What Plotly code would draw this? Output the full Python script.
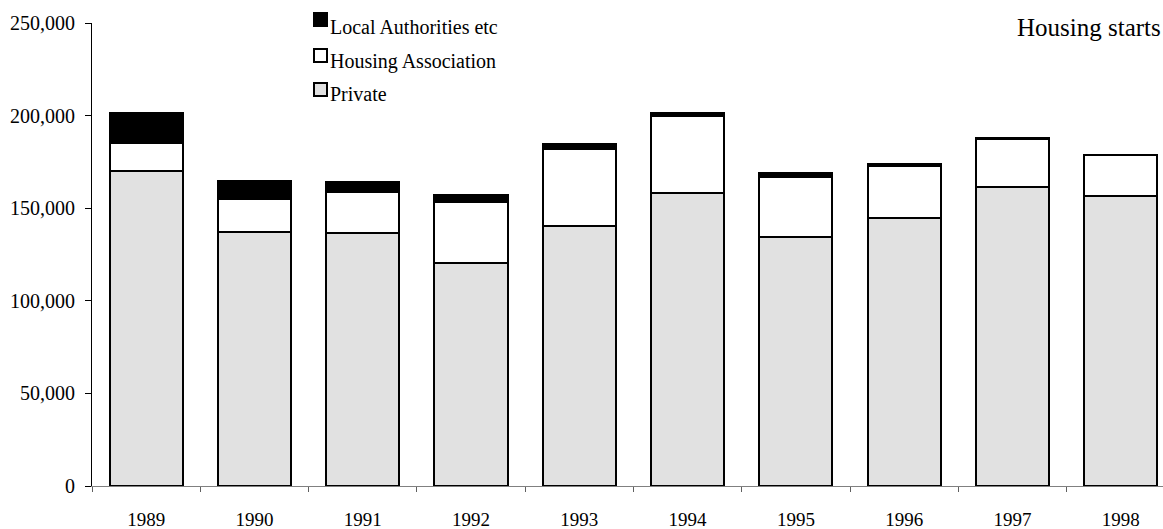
import plotly.graph_objects as go

# Housing starts by sector, 1989-1998
years = ["1989", "1990", "1991", "1992", "1993", "1994", "1995", "1996", "1997", "1998"]
private = [170000, 137000, 136800, 120400, 140600, 158400, 134400, 144700, 161600, 156600]
housing_association = [15400, 18000, 21900, 33100, 41500, 41200, 32600, 28100, 25900, 21900]
local_authorities = [16000, 9800, 5300, 3600, 2700, 1800, 1800, 1100, 300, 300]

series_names = ["Private", "Housing Association", "Local Authorities etc"]
series_values = [private, housing_association, local_authorities]
series_colors = ["#e1e1e1", "#ffffff", "#000000"]

y_ticks = [0, 50000, 100000, 150000, 200000, 250000]

W, H = 1163, 529
ML, MR, MT, MB = 92, 0, 23, 43
PW, PH = W - ML - MR, H - MT - MB
FONT = "Liberation Serif"


def px_x(p):
    return (p - ML) / PW


def px_y(p):
    return (H - MB - p) / PH


fig = go.Figure()
for name, vals, col in zip(series_names, series_values, series_colors):
    fig.add_trace(go.Bar(
        x=years, y=vals, name=name,
        marker=dict(color=col, line=dict(color="#000000", width=2)),
        showlegend=False,
    ))

# Legend drawn as boxes with labels, top entry = top of stack
legend_rows = [(13, 27), (49, 61), (83, 94)]
for (sq_top, txt_y), name, col in zip(legend_rows, series_names[::-1], series_colors[::-1]):
    fig.add_shape(type="rect", xref="paper", yref="paper",
                  x0=px_x(314), x1=px_x(327), y0=px_y(sq_top + 13), y1=px_y(sq_top),
                  fillcolor=col, line=dict(color="#000000", width=2))
    fig.add_annotation(xref="paper", yref="paper", x=px_x(328), y=px_y(txt_y),
                       xanchor="left", yanchor="middle", showarrow=False,
                       text=name, font=dict(family=FONT, size=20, color="#000000"))

fig.add_annotation(xref="paper", yref="paper", x=1, y=px_y(27),
                   xanchor="right", yanchor="middle", showarrow=False,
                   text="Housing starts", font=dict(family=FONT, size=25, color="#000000"))

fig.update_layout(
    width=W, height=H, autosize=False,
    margin=dict(l=ML, r=MR, t=MT, b=MB, pad=0),
    barmode="stack", bargap=0.325,
    paper_bgcolor="#ffffff", plot_bgcolor="#ffffff",
    font=dict(family=FONT, size=20, color="#000000"),
    xaxis=dict(type="category", range=[-0.5, 9.39], tickson="boundaries",
               ticks="outside", ticklen=5, tickcolor="#606060", tickwidth=1,
               showline=True, linecolor="#808080", linewidth=1,
               showgrid=False, zeroline=False, ticklabelstandoff=16,
               tickfont=dict(family=FONT, size=19, color="#000000")),
    yaxis=dict(range=[0, 250000], tickvals=y_ticks, tickformat=",",
               ticks="outside", ticklen=6, tickcolor="#000000", tickwidth=1,
               showline=True, linecolor="#000000", linewidth=1,
               showgrid=False, zeroline=False, ticklabelstandoff=6,
               tickfont=dict(family=FONT, size=20, color="#000000")),
)

fig.write_html("out.html")
